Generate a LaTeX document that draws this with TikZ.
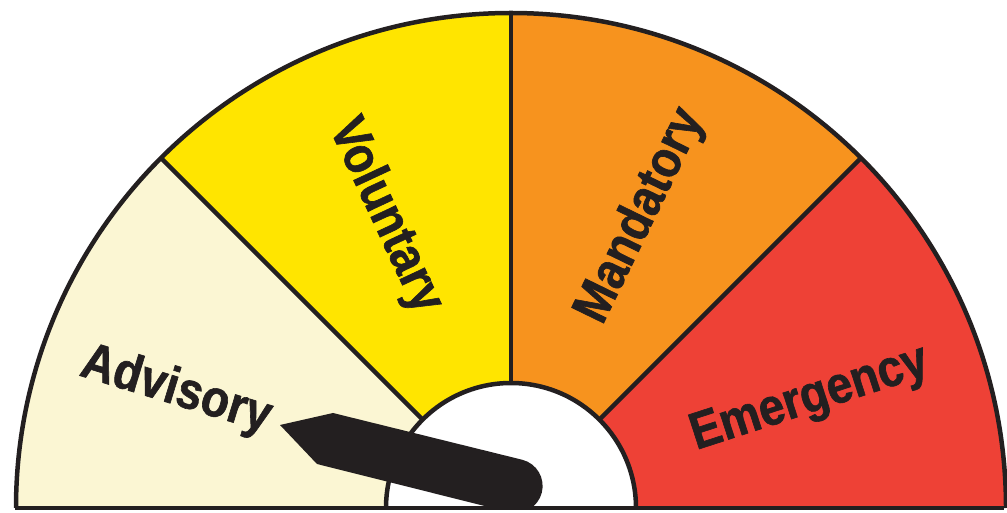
\documentclass[tikz,border=0pt]{standalone}
\usepackage{fontspec}
\newfontfamily\gaugefont[FakeStretch=0.88, FakeBold=1.2]{Liberation Sans}
\definecolor{Cream}{HTML}{FBF6D3}
\definecolor{Sun}{HTML}{FFE500}
\definecolor{Tangerine}{HTML}{F7931E}
\definecolor{Signal}{HTML}{EE4136}
\definecolor{Ink}{HTML}{231F20}
\usetikzlibrary{calc}

\begin{document}
\begin{tikzpicture}[
    x=0.025cm, y=0.025cm,
    rim/.style={draw=Ink, line width=3.2pt},
    tag/.style={font=\gaugefont\bfseries\fontsize{37}{37}\selectfont, text=Ink, inner sep=0pt}
]
\useasboundingbox (0,0) rectangle (1007,513);
\coordinate (hub) at (511,5);
% colour bands
\foreach \a/\b/\c in {135/180/Cream, 90/135/Sun, 45/90/Tangerine, 0/45/Signal}
  \fill[\c] (hub) -- ++(\a:495) arc[start angle=\a, end angle=\b, radius=495] -- cycle;
\fill[white] (hub) -- ++(0:125) arc[start angle=0, end angle=180, radius=125] -- cycle;
% outlines
\foreach \a in {45, 90, 135}
  \draw[rim] ($(hub)+(\a:125)$) -- ($(hub)+(\a:495)$);
\draw[rim] ($(hub)+(0:495)$) arc[start angle=0, end angle=180, radius=495];
\draw[rim] ($(hub)+(0:125)$) arc[start angle=0, end angle=180, radius=125];
% needle
\begin{scope}
  \clip (0,5) rectangle (1007,513);
  \fill[Ink] (280,88) -- (333,100) -- (522.4,53.2)
    arc[start angle=75.5, end angle=-104.5, radius=27] -- (317,49) -- cycle;
\end{scope}
\draw[rim] (15,5) -- (1004,5);
% band names
\node[tag, rotate=-17] (advisory) at (176,122) {Advisory};
\node[tag, rotate=-65] (voluntary) at (385,297) {Voluntary};
\node[tag, rotate=64] (mandatory) at (641,297) {Mandatory};
\node[tag, rotate=18] (emergency) at (810,113) {Emergency};
\end{tikzpicture}
\end{document}
